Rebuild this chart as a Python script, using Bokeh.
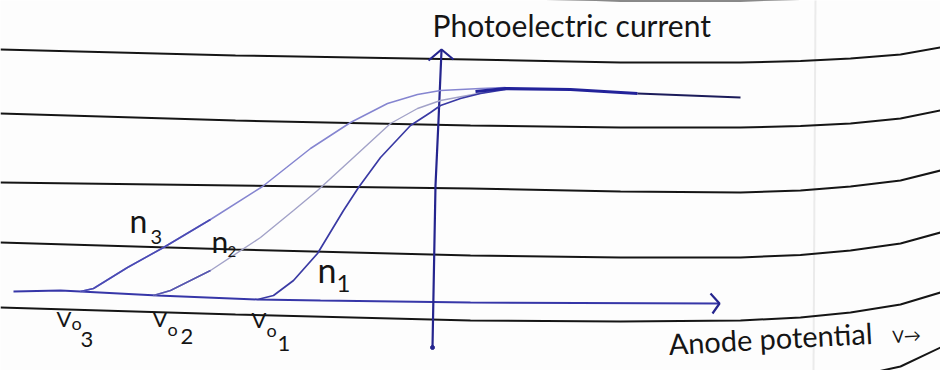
from bokeh.plotting import figure
from bokeh.models import Range1d
from bokeh.core.properties import value
from bokeh.embed import file_html
from bokeh.resources import INLINE

# --- photoelectric current vs anode potential (arbitrary units) ---
# stopping potentials for the three frequencies n1 < n2 < n3
STOP_V = [-3.50, -5.58, -7.04]
STOP_NAMES = ["1", "2", "3"]

# curve for frequency n3
n3_v = [-7.04, -6.78, -6.10, -5.38, -4.44, -3.40, -2.44, -1.64, -0.90, -0.30, 0.16, 0.96, 1.46]
n3_i = [0.12, 0.18, 0.60, 1.00, 1.56, 2.22, 2.98, 3.50, 3.88, 4.06, 4.14, 4.18, 4.20]

# curve for frequency n2
n2_v = [-5.58, -5.24, -4.44, -3.44, -2.78, -2.30, -1.58, -0.84, -0.30, 0.16, 0.70, 1.36]
n2_i = [0.04, 0.14, 0.54, 1.20, 1.74, 2.14, 2.80, 3.48, 3.78, 3.94, 4.04, 4.16]

# curve for frequency n1
n1_v = [-3.50, -3.18, -2.78, -2.30, -1.78, -1.48, -1.04, -0.44, -0.04, 0.16, 0.56, 0.96, 1.46]
n1_i = [-0.04, 0.04, 0.34, 0.88, 1.74, 2.20, 2.80, 3.44, 3.70, 3.84, 3.98, 4.08, 4.16]

# common saturation current
sat_v = [0.86, 1.46, 2.76, 4.10]
sat_i = [4.12, 4.18, 4.16, 4.08]
sat_tail_v = [4.10, 6.16]
sat_tail_i = [4.08, 4.00]

# hand-drawn axes
xaxis_v = [-8.38, -7.44, -7.04, -5.50, -3.50, -2.24, 0.76, 5.72]
xaxis_i = [0.12, 0.14, 0.12, 0.04, -0.04, -0.06, -0.10, -0.12]
xhead_v = [5.56, 5.74, 5.60]
xhead_i = [0.08, -0.12, -0.32]
yaxis_v = [0.18, 0.12, 0.06, 0.00]
yaxis_i = [4.94, 3.54, 2.24, -1.00]
yhead_v = [-0.08, 0.18, 0.42]
yhead_i = [4.74, 4.96, 4.76]

# ruled notebook lines behind the sketch
RULE_X = [-8.64, -3.94, 0.76, 3.76, 6.16, 7.36, 8.36, 9.36, 10.16]
RULES = [
    [6.20, 6.08, 6.00, 5.94, 5.94, 5.97, 6.02, 6.10, 6.24],
    [4.96, 4.84, 4.76, 4.70, 4.70, 4.73, 4.78, 4.86, 5.00],
    [3.68, 3.54, 3.44, 3.40, 3.40, 3.43, 3.48, 3.58, 3.74],
    [2.30, 2.24, 2.18, 2.12, 2.10, 2.14, 2.22, 2.34, 2.54],
    [1.10, 0.96, 0.84, 0.80, 0.80, 0.85, 0.94, 1.08, 1.30],
    [-0.20, -0.34, -0.46, -0.48, -0.46, -0.40, -0.30, -0.14, 0.10],
    [-1.48, -1.62, -1.74, -1.78, -1.76, -1.70, -1.60, -1.38, -1.00],
]
MARGIN_V = 7.66

# label anchors (text middles) in chart units
vo_v, vo_i = [-3.62, -5.60, -7.52], [-0.44, -0.42, -0.42]
vsub_v, vsub_i = [-3.32, -5.30, -7.22], [-0.65, -0.62, -0.50]
vnum_v, vnum_i = [-3.10, -5.04, -7.04], [-0.92, -0.78, -0.84]
n_v, n_i = [-2.30, -4.42, -6.06], [0.57, 1.13, 1.55]
nsub_v, nsub_i = [-1.92, -4.10, -5.64], [0.28, 0.93, 1.21]

PAPER = "#fdfdfd"
INK = "#151515"
PEN = "#25258e"
FONT = value("Lato")

p = figure(width=940, height=370, output_backend="svg", toolbar_location=None,
           x_range=Range1d(-8.64, 10.16), y_range=Range1d(-1.46, 5.94),
           x_axis_type=None, y_axis_type=None,
           min_border=0, min_border_left=0, min_border_right=0,
           min_border_top=0, min_border_bottom=0)
p.grid.visible = False
p.outline_line_color = None
p.background_fill_color = PAPER
p.border_fill_color = PAPER

# paper: faint margin and ruled lines
p.line([MARGIN_V, MARGIN_V - 0.04], [6.0, -1.5], line_color="#ebebeb", line_width=2)
p.multi_line([RULE_X] * len(RULES), RULES, line_color=INK, line_width=2)

# axes
p.line(xaxis_v, xaxis_i, line_color="#3636a8", line_width=2)
p.line(xhead_v, xhead_i, line_color=PEN, line_width=2.2)
p.line(yaxis_v, yaxis_i, line_color=PEN, line_width=2.2)
p.line(yhead_v, yhead_i, line_color=PEN, line_width=2.2)
p.scatter([yaxis_v[-1]], [yaxis_i[-1]], size=4, color=PEN)

# current curves (pen pressed harder near the foot of each curve)
p.line(n3_v, n3_i, line_color="#8585d0", line_width=1.5)
p.line(n3_v[:5], n3_i[:5], line_color="#4a4ab4", line_width=1.6)
p.line(n2_v, n2_i, line_color="#a2a2c8", line_width=1.4)
p.line(n2_v[:3], n2_i[:3], line_color="#5656b0", line_width=1.5)
p.line(n1_v, n1_i, line_color="#3a3aa4", line_width=1.7)
p.line(sat_v, sat_i, line_color="#22229a", line_width=3.2)
p.line(sat_tail_v, sat_tail_i, line_color="#1c1c5a", line_width=2)

# axis titles
p.text([0.0], [5.45], text=["Photoelectric current"], text_font=FONT,
       text_font_size="30px", text_color=INK, text_baseline="alphabetic")
p.text([4.72], [-0.92], text=["Anode potential"], text_font=FONT, angle=0.055,
       text_font_size="29px", text_color=INK, text_baseline="alphabetic")
p.text([9.20], [-0.78], text=["V→"], text_font=FONT, angle=0.055,
       text_font_size="17px", text_color=INK, text_baseline="alphabetic")

# stopping potential labels V_o1, V_o2, V_o3
p.text(vo_v, vo_i, text=["V"] * 3, text_font=FONT,
       text_font_size="22px", text_color=INK, text_baseline="alphabetic")
p.text(vsub_v, vsub_i, text=["o"] * 3, text_font=FONT,
       text_font_size="18px", text_color=INK, text_baseline="alphabetic")
p.text(vnum_v, vnum_i, text=STOP_NAMES, text_font=FONT,
       text_font_size="22px", text_color=INK, text_baseline="alphabetic")

# frequency labels n1, n2, n3
p.text(n_v, n_i, text=["n"] * 3, text_font=FONT, text_font_size=["34px", "30px", "32px"],
       text_color=INK, text_baseline="alphabetic")
p.text(nsub_v, nsub_i, text=STOP_NAMES, text_font=FONT,
       text_font_size=["24px", "15px", "20px"],
       text_color=INK, text_baseline="alphabetic")

open("out.html", "w").write(file_html(p, INLINE))
